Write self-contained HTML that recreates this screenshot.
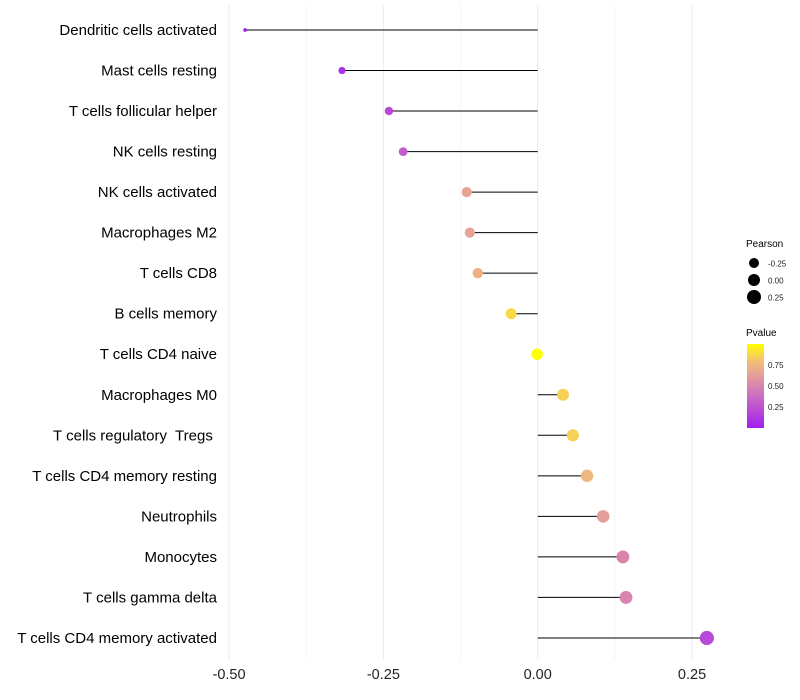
<!DOCTYPE html>
<html><head><meta charset="utf-8"><style>
body{margin:0;background:#fff;}
svg{display:block;font-family:"Liberation Sans",sans-serif;}
text{white-space:pre;}
</style></head><body>
<svg id="chart" width="800" height="700">
<g id="grid"></g>
<g id="marks"></g>
<g id="ylab"></g>
<g id="xlab"></g>
<g>
<text x="746" y="247" font-size="10" fill="#000">Pearson</text>
<circle cx="754" cy="263" r="5" fill="#000"/>
<text x="768" y="266.5" font-size="8" fill="#222">-0.25</text>
<circle cx="754" cy="280" r="6" fill="#000"/>
<text x="768" y="283.5" font-size="8" fill="#222">0.00</text>
<circle cx="754" cy="297" r="7" fill="#000"/>
<text x="768" y="300.5" font-size="8" fill="#222">0.25</text>
<text x="746" y="336" font-size="10" fill="#000">Pvalue</text>
<defs><linearGradient id="pg" x1="0" y1="1" x2="0" y2="0">
<stop offset="0" stop-color="#a020f0"/><stop offset="0.33" stop-color="#c762c8"/><stop offset="0.6" stop-color="#e2999e"/><stop offset="0.8" stop-color="#f4c074"/><stop offset="1" stop-color="#ffff00"/></linearGradient></defs>
<rect x="747" y="344" width="17" height="84" fill="url(#pg)"/>
<text x="768" y="368" font-size="8" fill="#222">0.75</text>
<text x="768" y="389" font-size="8" fill="#222">0.50</text>
<text x="768" y="410" font-size="8" fill="#222">0.25</text>
</g>
</svg>
<script>
const categories=["Dendritic cells activated","Mast cells resting","T cells follicular helper","NK cells resting","NK cells activated","Macrophages M2","T cells CD8","B cells memory","T cells CD4 naive","Macrophages M0","T cells regulatory  Tregs ","T cells CD4 memory resting","Neutrophils","Monocytes","T cells gamma delta","T cells CD4 memory activated"];
const pearson=[-0.474,-0.317,-0.241,-0.218,-0.115,-0.110,-0.097,-0.043,-0.001,0.041,0.057,0.080,0.106,0.138,0.143,0.274];
const pvalues=[0.0,0.1,0.2,0.3,0.65,0.65,0.72,0.88,1.0,0.85,0.85,0.75,0.62,0.5,0.5,0.2];
const xTicks=[-0.5,-0.25,0,0.25];
const xTickLabels=["-0.50","-0.25","0.00","0.25"];
const minorTicks=[-0.375,-0.125,0.125];
const NS="http://www.w3.org/2000/svg";
const x=v=>537.7+v*617.3;
const y=i=>30+i*40.53;
function mk(p,t,a){const e=document.createElementNS(NS,t);for(const k in a)e.setAttribute(k,a[k]);p.appendChild(e);return e;}
function color(p){const st=[[0,[160,32,240]],[0.33,[199,98,200]],[0.6,[226,153,158]],[0.8,[244,192,116]],[1,[255,255,0]]];
for(let i=1;i<st.length;i++){if(p<=st[i][0]){const t=(p-st[i-1][0])/(st[i][0]-st[i-1][0]);const c=st[i-1][1].map((v,j)=>Math.round(v+(st[i][1][j]-v)*t));return `rgb(${c})`;}}return "rgb(255,255,0)";}
const grid=document.getElementById('grid'),marks=document.getElementById('marks'),yl=document.getElementById('ylab'),xl=document.getElementById('xlab');
minorTicks.forEach(v=>{const l=mk(grid,'line',{x1:x(v),x2:x(v),y1:5,y2:660,stroke:'#f5f5f5','stroke-width':1});

});
xTicks.forEach((v,i)=>{const l=mk(grid,'line',{x1:x(v),x2:x(v),y1:5,y2:660,stroke:'#ebebeb','stroke-width':1});


const t=mk(xl,'text',{x:x(v),y:679,'font-size':14.5,'text-anchor':'middle',fill:'#222'});t.textContent=xTickLabels[i];

});
categories.forEach((c,i)=>{
const t=mk(yl,'text',{x:217,y:y(i)+5,'font-size':15,'text-anchor':'end',fill:'#000'});t.textContent=c;


const s=mk(marks,'line',{x1:x(0),x2:x(pearson[i]),y1:y(i),y2:y(i),stroke:'#000','stroke-width':1});


const r=Math.sqrt(Math.max(1,33+62.5*pearson[i]));
const d=mk(marks,'circle',{cx:x(pearson[i]),cy:y(i),r:r,fill:color(pvalues[i])});


});
</script>
</body></html>
